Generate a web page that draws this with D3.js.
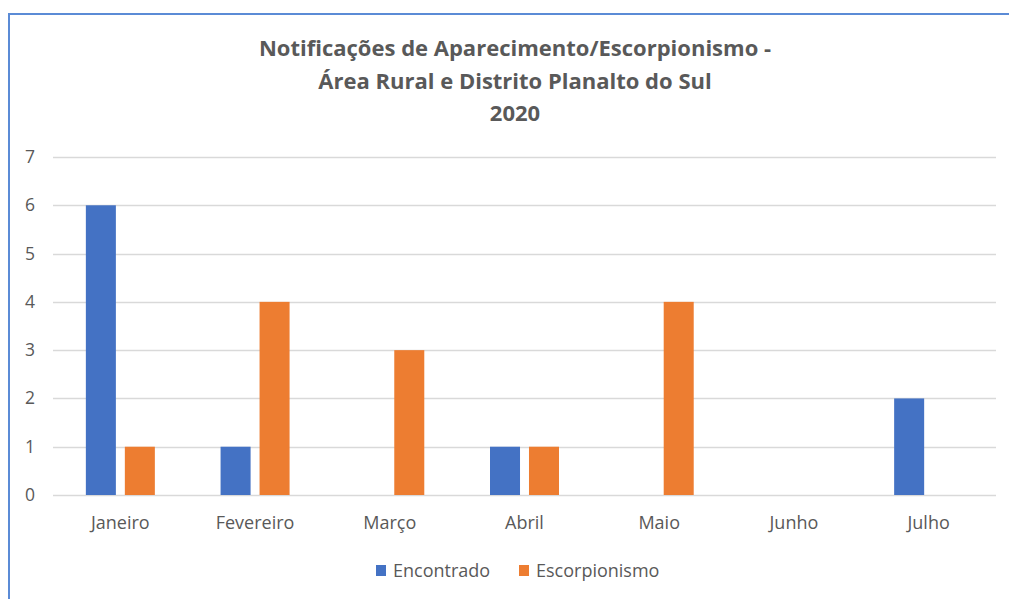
<!DOCTYPE html>
<html>
<head>
<meta charset="utf-8">
<script src="https://cdn.jsdelivr.net/npm/d3@7"></script>
<style>
  body { margin: 0; background: #fff; }
  svg { display: block; }
</style>
</head>
<body>
<div id="vis"></div>
<script>
const months = ['Janeiro', 'Fevereiro', 'Março', 'Abril', 'Maio', 'Junho', 'Julho'];
const series = ['Encontrado', 'Escorpionismo'];
const encontrado = [6, 1, 0, 1, 0, 0, 2];
const escorpionismo = [1, 4, 3, 1, 4, 0, 0];
const yTicks = [0, 1, 2, 3, 4, 5, 6, 7];
const titleLines = ['Notificações de Aparecimento/Escorpionismo -', 'Área Rural e Distrito Planalto do Sul', '2020'];

const colors = ['#4472c4', '#ed7d31'];
const font = 'Open Sans, Noto Sans, sans-serif';
const textColor = '#595959';

var svg = d3.select('#vis').append('svg')
    .attr('width', 1009)
    .attr('height', 599);

// chart area frame (only top and left visible in the crop)
svg.append('path')
    .attr('d', 'M9,600 L9,14 L1010,14')
    .attr('fill', 'none')
    .attr('stroke', '#5b8bd6')
    .attr('stroke-width', 2);

titleLines.forEach((t, i) => {
    svg.append('text')
        .attr('x', 515)
        .attr('y', 56 + i * 32.5)
        .attr('text-anchor', 'middle')
        .style('font-family', font)
        .style('font-size', '22px')
        .style('font-weight', 'bold')
        .attr('fill', textColor)
        .text(t);
});

const x0 = d3.scaleBand().domain(months).range([53, 996]);
const x1 = d3.scaleBand().domain(series).range([0, 69]).paddingInner(0.23);
const y = d3.scaleLinear().domain([0, 7]).range([495, 157]);

// gridlines
svg.append('g').selectAll('line')
    .data(yTicks)
    .join('line')
    .attr('x1', 53)
    .attr('x2', 996)
    .attr('y1', d => Math.round(y(d)) + 0.5)
    .attr('y2', d => Math.round(y(d)) + 0.5)
    .attr('stroke', '#d9d9d9')
    .attr('stroke-width', 1.5);

// y labels
svg.append('g').selectAll('text')
    .data(yTicks)
    .join('text')
    .attr('x', 35)
    .attr('y', d => y(d) + 6)
    .attr('text-anchor', 'end')
    .style('font-family', font)
    .style('font-size', '17.5px')
    .attr('fill', textColor)
    .text(d => d);

// bars
const rows = months.map((m, i) => ({ month: m, values: [encontrado[i], escorpionismo[i]] }));
const groups = svg.append('g').selectAll('g')
    .data(rows)
    .join('g')
    .attr('transform', d => 'translate(' + (x0(d.month) + x0.bandwidth() / 2 - 34.5) + ',0)');

groups.selectAll('rect')
    .data(d => d.values.map((v, j) => ({ key: series[j], value: v, idx: j })))
    .join('rect')
    .filter(d => d.value > 0)
    .attr('x', d => x1(d.key))
    .attr('width', x1.bandwidth())
    .attr('y', d => y(d.value))
    .attr('height', d => y(0) - y(d.value))
    .attr('fill', d => colors[d.idx]);

// x labels
svg.append('g').selectAll('text')
    .data(months)
    .join('text')
    .attr('x', d => x0(d) + x0.bandwidth() / 2)
    .attr('y', 529)
    .attr('text-anchor', 'middle')
    .style('font-family', font)
    .style('font-size', '18px')
    .attr('fill', textColor)
    .text(d => d);

// legend
const legendX = [376, 519];
series.forEach((s, i) => {
    svg.append('rect')
        .attr('x', legendX[i])
        .attr('y', 565)
        .attr('width', 10)
        .attr('height', 11)
        .attr('fill', colors[i]);
    svg.append('text')
        .attr('x', legendX[i] + 17)
        .attr('y', 577)
        .style('font-family', font)
        .style('font-size', '18px')
        .attr('fill', textColor)
        .text(s);
});
</script>
</body>
</html>
